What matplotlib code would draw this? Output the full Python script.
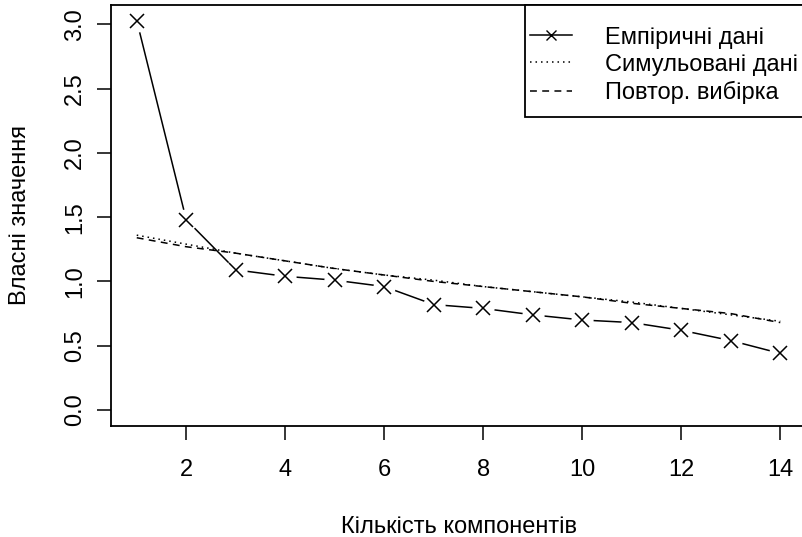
import numpy as np
import matplotlib.pyplot as plt
from matplotlib.lines import Line2D
from matplotlib.patches import Rectangle

plt.rcParams['font.family'] = ['Liberation Sans', 'DejaVu Sans']

components = np.arange(1, 15)
empirical = [3.03, 1.48, 1.09, 1.04, 1.01, 0.96, 0.82, 0.79, 0.74, 0.70, 0.68, 0.62, 0.54, 0.44]
simulated = [1.36, 1.29, 1.22, 1.16, 1.10, 1.05, 1.01, 0.96, 0.92, 0.88, 0.84, 0.79, 0.74, 0.69]
resampled = [1.34, 1.27, 1.22, 1.16, 1.10, 1.05, 1.00, 0.96, 0.92, 0.88, 0.83, 0.79, 0.75, 0.68]

legend = ['Емпіричні дані', 'Симульовані дані', 'Повтор. вибірка']
fs = 17
lw = 1.1

fig = plt.figure(figsize=(8.02, 5.37), dpi=100)
ax = fig.add_axes([111 / 802, 1 - 425.5 / 537, 695 / 802, 420.5 / 537])

ax.plot(components, simulated, color='black', linewidth=lw, dashes=(1, 2.6))
ax.plot(components, resampled, color='black', linewidth=lw, dashes=(4.5, 3.5))
# R type="b": line with gaps around the points
ax.plot(components, empirical, color='black', linewidth=lw)
ax.plot(components, empirical, linestyle='none', marker='o', markersize=16,
        markerfacecolor='white', markeredgecolor='none')
ax.plot(components, empirical, linestyle='none', marker='x', markersize=9.5,
        markeredgewidth=lw, color='black')

ax.set_xlim(0.48, 14.52)
ax.set_ylim(-0.121, 3.151)
ax.set_xticks([2, 4, 6, 8, 10, 12, 14])
ax.set_yticks([0.0, 0.5, 1.0, 1.5, 2.0, 2.5, 3.0])
ax.set_yticklabels(['0.0', '0.5', '1.0', '1.5', '2.0', '2.5', '3.0'], rotation=90, va='center')
ax.tick_params(direction='out', length=10, width=1.1, labelsize=fs)
ax.tick_params(axis='x', pad=14)
ax.tick_params(axis='y', pad=8)
for s in ax.spines.values():
    s.set_linewidth(1.3)
ax.spines['right'].set_visible(False)

ax.set_xlabel('Кількість компонентів', fontsize=fs, labelpad=25)
ax.set_ylabel('Власні значення', fontsize=fs, labelpad=24)

# legend box, R style (top right, runs past the right edge)
ax.add_patch(Rectangle((0.5957, 0.7337), 0.41, 0.2663, transform=ax.transAxes,
                       facecolor='white', edgecolor='black', linewidth=1.3,
                       clip_on=False, zorder=4))
handles = [Line2D([], [], color='black', linewidth=lw, marker='x', markersize=6.5),
           Line2D([], [], color='black', linewidth=lw, dashes=(1, 2.6)),
           Line2D([], [], color='black', linewidth=lw, dashes=(4.5, 3.5))]
leg = ax.legend(handles, legend, loc='upper left', bbox_to_anchor=(0.5957, 0.960),
                fontsize=fs, frameon=False, borderaxespad=0, borderpad=0.2,
                handlelength=1.78, handletextpad=1.4, labelspacing=0.22)
leg.set_zorder(5)

fig.savefig('out.png', dpi=100)
